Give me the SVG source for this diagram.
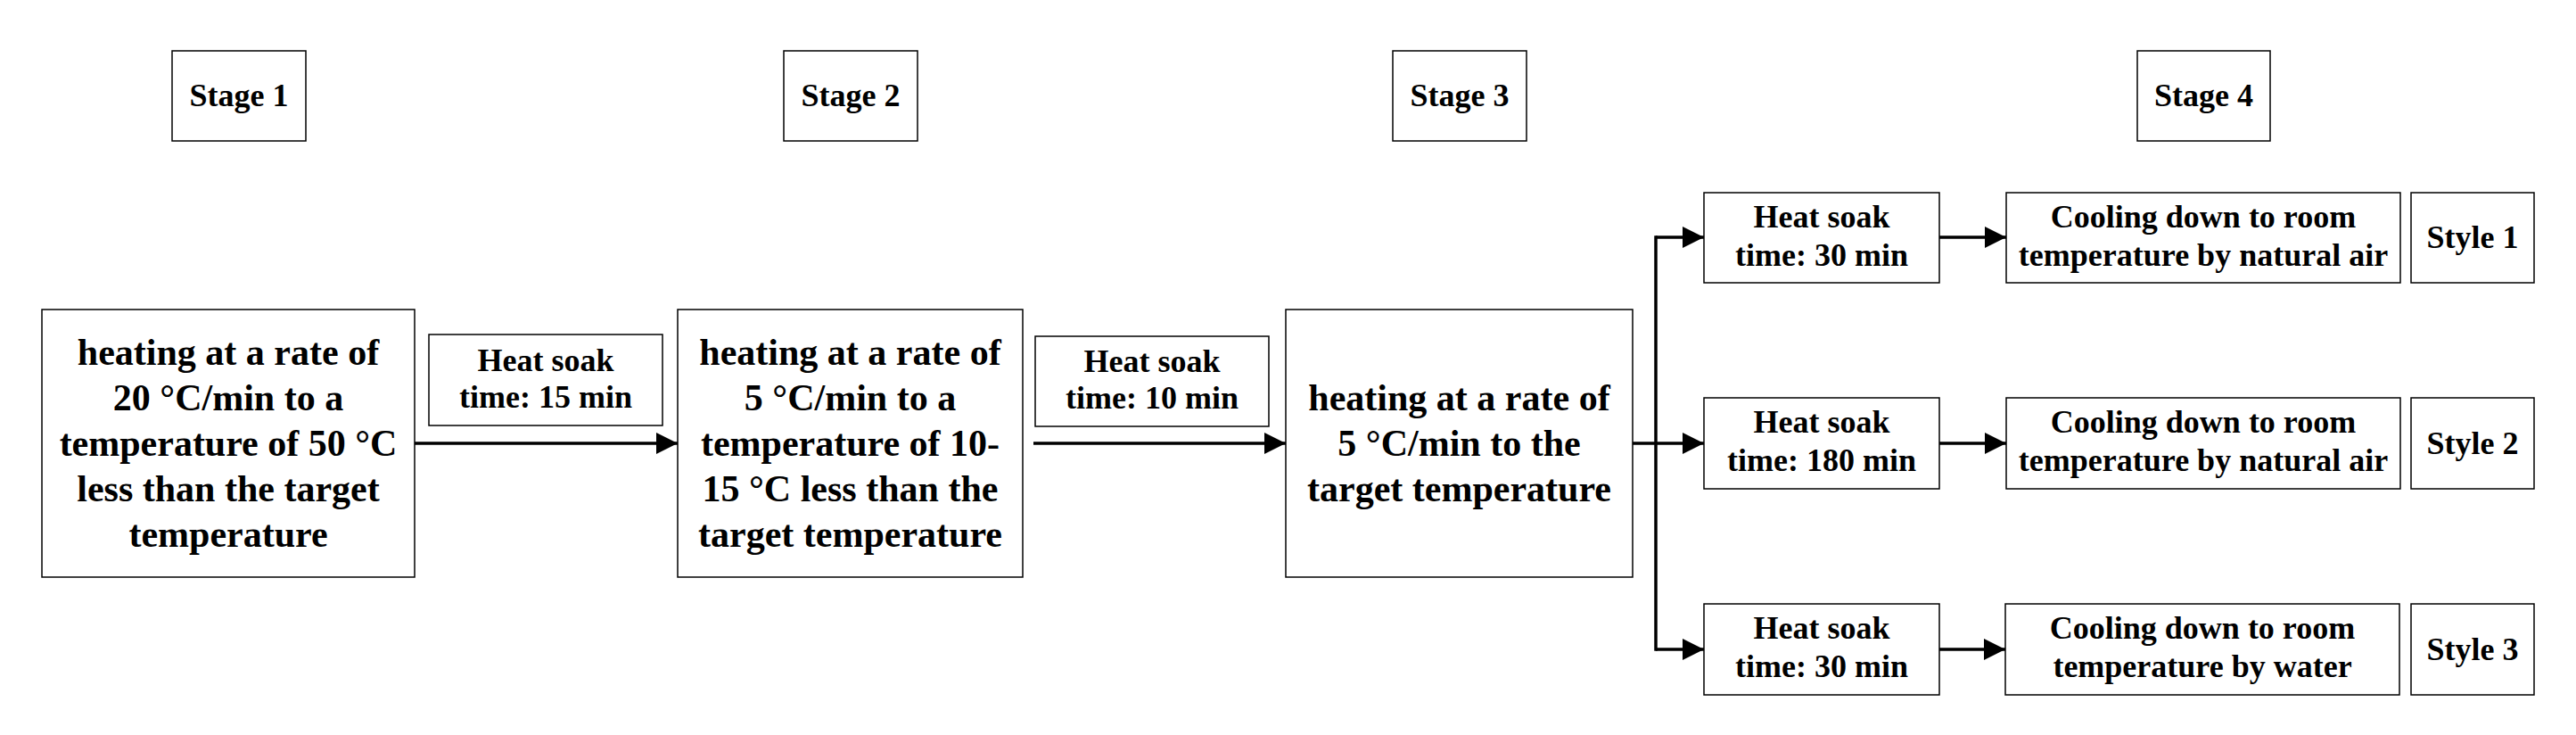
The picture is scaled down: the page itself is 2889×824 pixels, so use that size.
<svg xmlns="http://www.w3.org/2000/svg" width="2889" height="824" viewBox="0 0 2889 824">
<defs>
<marker id="ah" markerUnits="userSpaceOnUse" markerWidth="24" markerHeight="24" refX="24" refY="12" orient="auto">
<path d="M0,0 L24,12 L0,24 Z" fill="#000"/>
</marker>
<style>
.box{fill:#fff;stroke:#000;stroke-width:1.5}
.t{font-family:"Liberation Serif","Times New Roman",serif;font-weight:bold;fill:#000;text-anchor:middle}
.s36{font-size:36px}
.s42{font-size:42px}
.c{fill:none;stroke:#000;stroke-width:3.5}
</style>
</defs>
<rect width="2889" height="824" fill="#fff"/>
<g id="stage1"><rect class="box" x="193" y="57" width="150" height="101"/><text class="t s36" x="268" y="119">Stage 1</text></g>
<g id="stage2"><rect class="box" x="879" y="57" width="150" height="101"/><text class="t s36" x="954" y="119">Stage 2</text></g>
<g id="stage3"><rect class="box" x="1562" y="57" width="150" height="101"/><text class="t s36" x="1637" y="119">Stage 3</text></g>
<g id="stage4"><rect class="box" x="2397" y="57" width="149" height="101"/><text class="t s36" x="2471.5" y="119">Stage 4</text></g>

<g id="heat1"><rect class="box" x="47" y="347" width="418" height="300"/>
<text class="t s42" x="256" y="409">heating at a rate of</text>
<text class="t s42" x="256" y="460">20 °C/min to a</text>
<text class="t s42" x="256" y="511">temperature of 50 °C</text>
<text class="t s42" x="256" y="562">less than the target</text>
<text class="t s42" x="256" y="613">temperature</text></g>

<g id="soak15"><rect class="box" x="481" y="375" width="262" height="102"/>
<text class="t s36" x="612" y="416">Heat soak</text>
<text class="t s36" x="612" y="457">time: 15 min</text></g>

<g id="heat2"><rect class="box" x="760" y="347" width="387" height="300"/>
<text class="t s42" x="953.5" y="409">heating at a rate of</text>
<text class="t s42" x="953.5" y="460">5 °C/min to a</text>
<text class="t s42" x="953.5" y="511">temperature of 10-</text>
<text class="t s42" x="953.5" y="562">15 °C less than the</text>
<text class="t s42" x="953.5" y="613">target temperature</text></g>

<g id="soak10"><rect class="box" x="1161" y="377" width="262" height="101"/>
<text class="t s36" x="1292" y="417">Heat soak</text>
<text class="t s36" x="1292" y="458">time: 10 min</text></g>

<g id="heat3"><rect class="box" x="1442" y="347" width="389" height="300"/>
<text class="t s42" x="1636.5" y="460">heating at a rate of</text>
<text class="t s42" x="1636.5" y="511">5 °C/min to the</text>
<text class="t s42" x="1636.5" y="562">target temperature</text></g>

<g id="soakA"><rect class="box" x="1911" y="216" width="264" height="101"/>
<text class="t s36" x="2043" y="255">Heat soak</text>
<text class="t s36" x="2043" y="298">time: 30 min</text></g>
<g id="soakB"><rect class="box" x="1911" y="446" width="264" height="102"/>
<text class="t s36" x="2043" y="485">Heat soak</text>
<text class="t s36" x="2043" y="528">time: 180 min</text></g>
<g id="soakC"><rect class="box" x="1911" y="677" width="264" height="102"/>
<text class="t s36" x="2043" y="716">Heat soak</text>
<text class="t s36" x="2043" y="759">time: 30 min</text></g>

<g id="coolA"><rect class="box" x="2250" y="216" width="442" height="101"/>
<text class="t s36" x="2471" y="255">Cooling down to room</text>
<text class="t s36" x="2471" y="298">temperature by natural air</text></g>
<g id="coolB"><rect class="box" x="2250" y="446" width="442" height="102"/>
<text class="t s36" x="2471" y="485">Cooling down to room</text>
<text class="t s36" x="2471" y="528">temperature by natural air</text></g>
<g id="coolC"><rect class="box" x="2249" y="677" width="442" height="102"/>
<text class="t s36" x="2470" y="716">Cooling down to room</text>
<text class="t s36" x="2470" y="759">temperature by water</text></g>

<g id="style1"><rect class="box" x="2704" y="216" width="138" height="101"/><text class="t s36" x="2773" y="278">Style 1</text></g>
<g id="style2"><rect class="box" x="2704" y="446" width="138" height="102"/><text class="t s36" x="2773" y="509">Style 2</text></g>
<g id="style3"><rect class="box" x="2704" y="677" width="138" height="102"/><text class="t s36" x="2773" y="740">Style 3</text></g>

<g id="connectors">
<line class="c" x1="465" y1="497" x2="760" y2="497" marker-end="url(#ah)"/>
<line class="c" x1="1159" y1="497" x2="1442" y2="497" marker-end="url(#ah)"/>
<line class="c" x1="1831" y1="497" x2="1857" y2="497"/>
<line class="c" x1="1857" y1="266" x2="1857" y2="728" stroke-linecap="square"/>
<line class="c" x1="1857" y1="266" x2="1911" y2="266" marker-end="url(#ah)"/>
<line class="c" x1="1857" y1="497" x2="1911" y2="497" marker-end="url(#ah)"/>
<line class="c" x1="1857" y1="728" x2="1911" y2="728" marker-end="url(#ah)"/>
<line class="c" x1="2175" y1="266" x2="2250" y2="266" marker-end="url(#ah)"/>
<line class="c" x1="2175" y1="497" x2="2250" y2="497" marker-end="url(#ah)"/>
<line class="c" x1="2175" y1="728" x2="2249" y2="728" marker-end="url(#ah)"/>
</g>
</svg>
